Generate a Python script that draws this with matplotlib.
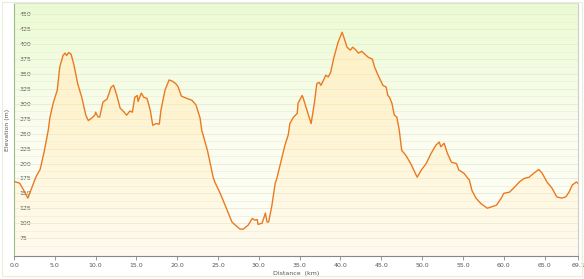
import numpy as np
import matplotlib
matplotlib.use("Agg")
import matplotlib.pyplot as plt
from matplotlib.colors import LinearSegmentedColormap
from matplotlib.patches import Rectangle

# elevation profile (km, m)
distance_km = [0.0, 0.7, 1.2, 1.7, 2.2, 2.7, 3.2, 3.7, 4.2, 4.4, 4.8, 5.3, 5.6,
               6.0, 6.25, 6.45, 6.7, 7.0, 7.35, 7.8, 8.3, 8.8, 9.1, 9.5, 9.9,
               10.0, 10.3, 10.5, 10.9, 11.4, 11.9, 12.2, 12.6, 13.0, 13.5,
               13.8, 14.2, 14.5, 14.8, 15.1, 15.2, 15.6, 15.9, 16.3, 16.7,
               17.0, 17.4, 17.8, 18.0, 18.5, 19.0, 19.4, 19.8, 20.1, 20.5,
               21.2, 21.8, 22.3, 22.8, 23.0, 23.7, 24.4, 24.6, 25.2, 25.6,
               26.1, 26.7, 27.1, 27.7, 28.1, 28.7, 29.2, 29.5, 29.8, 29.9,
               30.4, 30.8, 31.0, 31.2, 31.6, 32.0, 32.2, 32.8, 33.2, 33.6,
               33.8, 34.2, 34.7, 34.8, 35.3, 35.4, 35.9, 36.4, 36.8, 37.1,
               37.4, 37.6, 37.9, 38.2, 38.5, 38.8, 39.2, 39.7, 40.2, 40.4,
               40.8, 41.2, 41.5, 41.9, 42.2, 42.6, 43.0, 43.4, 43.9, 44.2,
               44.6, 45.2, 45.6, 45.8, 46.0, 46.3, 46.6, 46.9, 47.2, 47.5,
               48.0, 48.6, 49.3, 49.4, 49.9, 50.5, 51.1, 51.7, 52.1, 52.3,
               52.7, 53.1, 53.6, 54.2, 54.5, 55.1, 55.8, 56.1, 56.6, 57.2,
               58.0, 58.4, 59.1, 59.7, 60.0, 60.7, 61.3, 61.9, 62.5, 63.1,
               63.7, 64.3, 64.7, 65.3, 65.9, 66.5, 67.1, 67.6, 68.0, 68.4,
               68.9, 69.1]
elevation_m = [170, 167, 155, 142, 160, 178, 190, 220, 256, 277, 301, 323, 361,
               381, 385, 381, 386, 383, 365, 334, 311, 281, 272, 276, 281,
               286, 278, 278, 303, 308, 328, 331, 314, 293, 286,
               281, 288, 286, 311, 314, 304, 318, 311, 309, 289,
               264, 267, 266, 289, 323, 340, 338, 334, 329, 313,
               309, 306, 298, 276, 256, 222, 177, 169, 152, 139,
               122, 102, 97, 90, 90, 97, 108, 105, 106, 98,
               100, 117, 102, 102, 130, 167, 175, 209, 231, 248,
               267, 277, 284, 301, 314, 311, 289, 267, 301, 334,
               336, 331, 339, 348, 345, 353, 378, 403, 420, 412,
               395, 390, 395, 390, 385, 388, 383, 378, 375, 361,
               348, 331, 328, 314, 311, 301, 281, 278, 256, 222,
               214, 200, 180, 177, 189, 200, 217, 231, 236, 228,
               234, 217, 202, 200, 189, 184, 172, 155, 142, 133,
               125, 127, 130, 142, 150, 152, 160, 169, 175, 177,
               184, 190, 184, 169, 159, 144, 142, 144, 152, 164,
               169, 167]

y_ticks = [75, 100, 125, 150, 175, 200, 225, 250, 275, 300, 325, 350, 375, 400, 425, 450]
x_ticks = [0.0, 5.0, 10.0, 15.0, 20.0, 25.0, 30.0, 35.0, 40.0, 45.0, 50.0, 55.0, 60.0, 65.0, 69.1]

x_min, x_max = 0.0, 69.1
y_min, y_max = 45, 469

fig = plt.figure(figsize=(5.84, 2.79), dpi=100)
fig.patch.set_facecolor("white")
fig.patches.append(Rectangle((2 / 584, 3 / 279), 580 / 584, 274 / 279,
                             transform=fig.transFigure, fill=False,
                             edgecolor="#e2f1d8", linewidth=0.8))

ax = fig.add_axes([14 / 584, 23 / 279, 564 / 584, 253 / 279])
ax.set_xlim(x_min, x_max)
ax.set_ylim(y_min, y_max)

# background gradient: pale green at top to near white at the bottom
bg = LinearSegmentedColormap.from_list("bg", ["#fffef8", "#fbfdf0", "#eafbd2"])
grad = np.linspace(0, 1, 256).reshape(-1, 1)
ax.imshow(grad, cmap=bg, origin="lower", aspect="auto",
          extent=[x_min, x_max, y_min, y_max], zorder=0)

# yellow gradient under the profile, clipped to the filled area
fill = ax.fill_between(distance_km, elevation_m, y_min, color="none", zorder=1)
fg = LinearSegmentedColormap.from_list("fg", ["#fffbf0", "#fff4d2", "#fff0c0"])
img = ax.imshow(grad, cmap=fg, origin="lower", aspect="auto",
                extent=[x_min, x_max, y_min, y_max], zorder=1)
path = fill.get_paths()[0]
img.set_clip_path(path, transform=ax.transData)

for v in np.arange(62.5, 470, 12.5):
    major = v % 25 == 0
    ax.axhline(v, color="#e6eccf" if major else "#eef2dc", linewidth=0.6, zorder=2)

ax.plot(distance_km, elevation_m, color="#ea7a22", linewidth=1.0, zorder=3)

ax.set_yticks(y_ticks)
ax.set_yticklabels([str(t) for t in y_ticks], ha="left")
ax.tick_params(axis="y", length=0, pad=-4, labelsize=4.5, labelcolor="#555555")
ax.set_xticks(x_ticks)
ax.set_xticklabels(["%.1f" % t for t in x_ticks])
ax.tick_params(axis="x", length=3, width=0.6, color="#888888", pad=2,
               labelsize=4.5, labelcolor="#555555")

ax.spines["left"].set_color("#9dbb88")
ax.spines["bottom"].set_color("#888888")
ax.spines["top"].set_color("#dddddd")
ax.spines["right"].set_color("#cccccc")
for s in ax.spines.values():
    s.set_linewidth(0.8)

ax.set_xlabel("Distance  (km)", fontsize=4.5, color="#555555", labelpad=2)
fig.text(8 / 584, 1 - 130 / 279, "Elevation (m)", rotation=90, fontsize=4.5,
         color="#555555", ha="center", va="center")

fig.savefig("out.png", dpi=100)
